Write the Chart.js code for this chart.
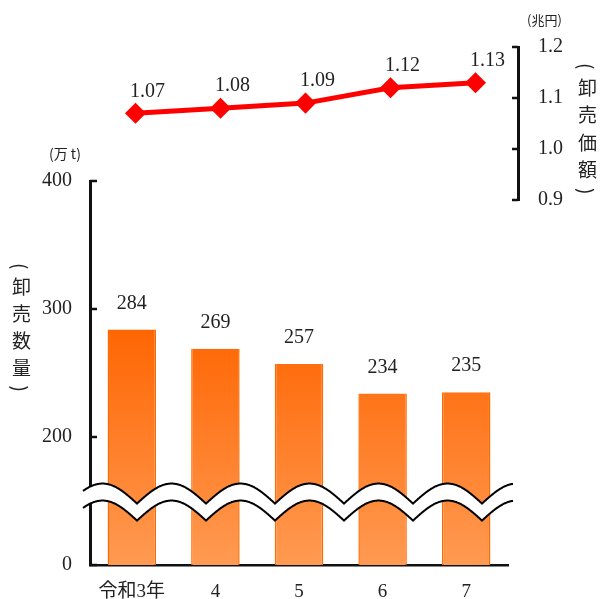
<!DOCTYPE html>
<html><head><meta charset="utf-8">
<script src="https://cdn.jsdelivr.net/npm/chart.js@4.4.0/dist/chart.umd.min.js"></script>
<style>
body{margin:0;background:#fff;}
#wrap{position:relative;width:603px;height:599px;overflow:hidden;background:#fff;}
canvas{position:absolute;left:0;top:0;}
.t{position:absolute;font-family:"Noto Sans CJK JP";color:#222;white-space:nowrap;line-height:1;}
.v{writing-mode:vertical-rl;text-orientation:mixed;}
</style></head><body>
<div id="wrap">
<canvas id="c1" width="603" height="599"></canvas>
<canvas id="c2" width="603" height="599"></canvas>
<div class="t" style="left:49px;top:146px;font-size:14px;">(万 t)</div>
<div class="t" style="left:527px;top:13px;font-size:13px;">(兆円)</div>
<div class="t v" style="left:12px;top:263px;font-size:19px;letter-spacing:8px;">(卸売数量)</div>
<div class="t v" style="left:578px;top:63px;font-size:19px;letter-spacing:8.5px;">(卸売価額)</div>
</div>
<script>
const categories = ['令和3年', '4', '5', '6', '7'];
const quantity = [284, 269, 257, 234, 235];      // 卸売数量 (万t)
const salesValue = [1.07, 1.08, 1.09, 1.12, 1.13]; // 卸売価額 (兆円)
const qtyTickValues = [100, 200, 300, 400];     // scale positions (broken axis: 100 shown as 0)
const qtyTickLabels = ['0', '200', '300', '400'];
const valueTickValues = [0.9, 1.0, 1.1, 1.2];

const SERIF = '"Liberation Serif","Noto Sans CJK JP",serif';
const TXT = '#222';

const innerTicks = {
  id: 'innerTicks',
  afterDraw(chart, args, opts) {
    const s = chart.scales[opts.scale];
    const ctx = chart.ctx;
    const a = chart.chartArea;
    const x0 = opts.side === 'left' ? a.left : a.right;
    const dx = opts.side === 'left' ? opts.len : -opts.len;
    ctx.save();
    ctx.strokeStyle = '#111';
    ctx.lineWidth = opts.width;
    s.ticks.forEach(t => {
      const y = s.getPixelForValue(t.value);
      ctx.beginPath(); ctx.moveTo(x0, y); ctx.lineTo(x0 + dx, y); ctx.stroke();
    });
    ctx.restore();
  }
};

const breakMark = {
  id: 'breakMark',
  afterDatasetsDraw(chart) {
    const {ctx, chartArea: a, scales: {y}} = chart;
    const yT = y.getPixelForValue(148);
    const amp = 20, gap = 17, period = 69;
    const x0 = a.left - 7, x1 = a.right + 5;
    const ph = a.left + 47;
    const f = x => yT - amp * Math.abs(Math.sin(Math.PI * (x - ph) / period));
    ctx.save();
    ctx.beginPath();
    for (let x = x0; x <= x1; x += 0.5) { if (x === x0) ctx.moveTo(x, f(x)); else ctx.lineTo(x, f(x)); }
    for (let x = x1; x >= x0; x -= 0.5) ctx.lineTo(x, f(x) + gap);
    ctx.closePath();
    ctx.fillStyle = '#fff';
    ctx.fill();
    ctx.strokeStyle = '#000';
    ctx.lineWidth = 2;
    ctx.beginPath();
    for (let x = x0; x <= x1; x += 0.5) { if (x === x0) ctx.moveTo(x, f(x)); else ctx.lineTo(x, f(x)); }
    ctx.stroke();
    ctx.beginPath();
    for (let x = x0; x <= x1; x += 0.5) { if (x === x0) ctx.moveTo(x, f(x) + gap); else ctx.lineTo(x, f(x) + gap); }
    ctx.stroke();
    ctx.restore();
  }
};

const barLabels = {
  id: 'barLabels',
  afterDatasetsDraw(chart) {
    const ctx = chart.ctx;
    const meta = chart.getDatasetMeta(0);
    ctx.save();
    ctx.font = '20px ' + SERIF;
    ctx.fillStyle = TXT;
    ctx.textAlign = 'center';
    ctx.textBaseline = 'middle';
    meta.data.forEach((b, i) => ctx.fillText(String(quantity[i]), b.x, b.y - 26));
    ctx.restore();
  }
};

const lineLabels = {
  id: 'lineLabels',
  afterDatasetsDraw(chart) {
    const ctx = chart.ctx;
    const meta = chart.getDatasetMeta(0);
    ctx.save();
    ctx.font = '20px ' + SERIF;
    ctx.fillStyle = TXT;
    ctx.textAlign = 'center';
    ctx.textBaseline = 'middle';
    meta.data.forEach((p, i) => ctx.fillText(salesValue[i].toFixed(2), p.x + 12, p.y - 22));
    ctx.restore();
  }
};

new Chart(document.getElementById('c1'), {
  type: 'bar',
  data: {
    labels: categories,
    datasets: [{
      data: quantity,
      backgroundColor: (c) => {
        const ch = c.chart; const a = ch.chartArea;
        if (!a) return '#FF7A20';
        const g = ch.ctx.createLinearGradient(0, ch.scales.y.getPixelForValue(290), 0, a.bottom);
        g.addColorStop(0, '#FF6400');
        g.addColorStop(1, '#FF9A52');
        return g;
      },
      borderColor: '#FF6A00',
      borderWidth: {left: 1.5, right: 1.5, top: 0, bottom: 0},
      borderSkipped: false,
      barPercentage: 0.58,
      categoryPercentage: 1
    }]
  },
  options: {
    responsive: false,
    animation: false,
    layout: {padding: {top: 181, right: 95, left: 0, bottom: 0}},
    plugins: {legend: {display: false}, tooltip: {enabled: false},
      innerTicks: {scale: 'y', side: 'left', len: 7, width: 2.5}},
    scales: {
      x: {
        grid: {display: false, drawTicks: false},
        border: {display: true, color: '#111', width: 2.5},
        ticks: {color: TXT, font: {family: SERIF, size: 19}, padding: 16, maxRotation: 0},
        afterFit: s => { s.height = 34; }
      },
      y: {
        min: 100, max: 400,
        grid: {display: false, drawTicks: false},
        border: {display: true, color: '#111', width: 3},
        afterBuildTicks: s => { s.ticks = qtyTickValues.map(v => ({value: v})); },
        ticks: {color: TXT, font: {family: SERIF, size: 20}, padding: 18,
          callback: (v) => qtyTickLabels[qtyTickValues.indexOf(v)]},
        afterFit: s => { s.width = 90; }
      }
    }
  },
  plugins: [innerTicks, breakMark, barLabels]
});

new Chart(document.getElementById('c2'), {
  type: 'line',
  data: {
    labels: categories,
    datasets: [{
      data: salesValue,
      borderColor: '#FF0000',
      backgroundColor: '#FF0000',
      borderWidth: 5,
      pointStyle: 'rectRot',
      pointRadius: 7,
      pointBackgroundColor: '#FF0000',
      pointBorderColor: '#FF0000',
      tension: 0,
      clip: false
    }]
  },
  options: {
    responsive: false,
    animation: false,
    layout: {padding: {top: 47, right: 0, left: 93, bottom: 399}},
    plugins: {legend: {display: false}, tooltip: {enabled: false},
      innerTicks: {scale: 'y', side: 'right', len: 6, width: 2.5}},
    scales: {
      x: {display: false, offset: true},
      y: {
        position: 'right',
        min: 0.9, max: 1.2,
        grid: {display: false, drawTicks: false},
        border: {display: true, color: '#111', width: 3},
        afterBuildTicks: s => { s.ticks = valueTickValues.map(v => ({value: v})); },
        ticks: {color: TXT, font: {family: SERIF, size: 20}, padding: 20,
          callback: (v) => Number(v).toFixed(1)},
        afterFit: s => { s.width = 85; }
      }
    }
  },
  plugins: [innerTicks, lineLabels]
});
</script>
</body></html>
